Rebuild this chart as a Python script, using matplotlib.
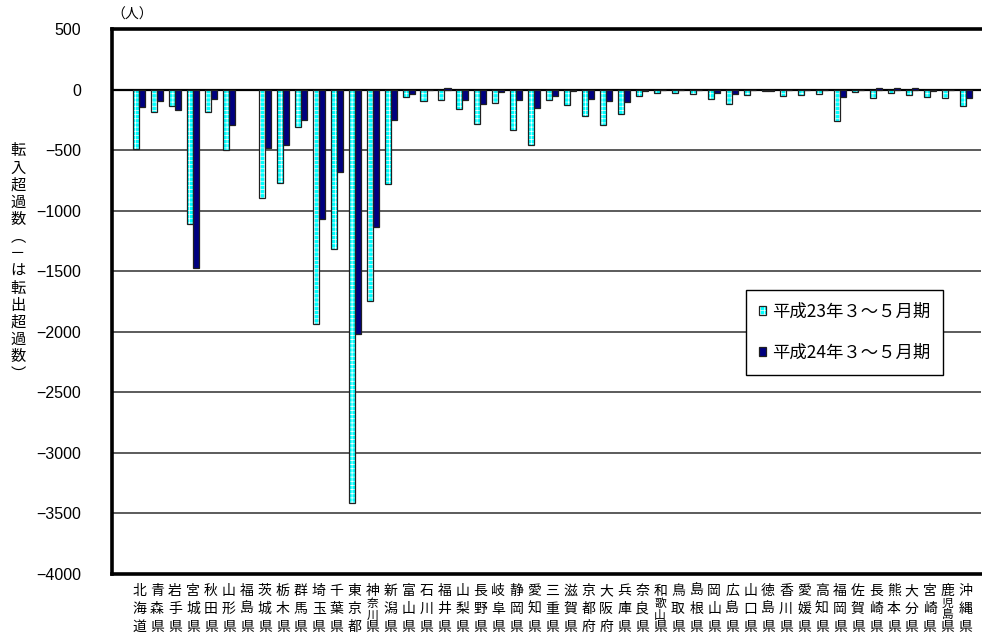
import numpy as np
import matplotlib
matplotlib.use("Agg")
import matplotlib.pyplot as plt
from matplotlib.patches import Patch
from matplotlib.transforms import blended_transform_factory
from matplotlib.legend_handler import HandlerTuple

plt.rcParams['font.family'] = ['Noto Sans CJK JP', 'DejaVu Sans']
plt.rcParams['hatch.linewidth'] = 0.5

prefs = ["北海道", "青森県", "岩手県", "宮城県", "秋田県", "山形県", "福島県", "茨城県",
         "栃木県", "群馬県", "埼玉県", "千葉県", "東京都", "神奈川県", "新潟県", "富山県",
         "石川県", "福井県", "山梨県", "長野県", "岐阜県", "静岡県", "愛知県", "三重県",
         "滋賀県", "京都府", "大阪府", "兵庫県", "奈良県", "和歌山県", "鳥取県", "島根県",
         "岡山県", "広島県", "山口県", "徳島県", "香川県", "愛媛県", "高知県", "福岡県",
         "佐賀県", "長崎県", "熊本県", "大分県", "宮崎県", "鹿児島県", "沖縄県"]

h23 = [-490, -185, -133, -1111, -185, -497, np.nan, -898, -774, -312, -1934, -1318,
       -3413, -1749, -782, -61, -91, -83, -158, -282, -111, -337, -456, -83, -124,
       -221, -290, -199, -55, -28, -28, -33, -75, -119, -47, -14, -55, -41, -35,
       -263, -22, -69, -28, -47, -61, -69, -138]

h24 = [-146, -97, -166, -1473, -75, -293, np.nan, -484, -456, -249, -1072, -682,
       -2017, -1133, -249, -33, -3, 10, -83, -119, -19, -88, -152, -50, -14,
       -77, -97, -105, -14, -5, -3, -5, -28, -36, -3, -10, -5, -5, -3,
       -61, -3, 15, 15, 12, -10, -3, -69]

series_labels = ["平成23年３～５月期", "平成24年３～５月期"]
yticks = list(range(-4000, 501, 500))

W, H = 982, 641
fig = plt.figure(figsize=(W / 100, H / 100), dpi=100)
ax = fig.add_axes([112 / W, 1 - 574 / H, (981 - 112) / W, (574 - 29) / H])

x = np.arange(len(prefs))
bw = 0.335
cyan = '#00FFFF'
navy = '#000080'

# hatched cyan bars (checker look) + outline
ax.bar(x - bw / 2, h23, bw, color=cyan, edgecolor='white', hatch='++++', linewidth=0, zorder=3)
ax.bar(x - bw / 2, h23, bw, facecolor='none', edgecolor='#202020', linewidth=0.9, zorder=4)
ax.bar(x + bw / 2, h24, bw, color=navy, edgecolor='#202020', linewidth=0.9, zorder=3)

ax.set_xlim(-1.502, 46.855)
ax.set_ylim(-4000, 500)
ax.set_yticks(yticks)
ax.set_yticklabels([str(v).replace('-', '\u2212') for v in yticks],
                   fontsize=11.5, family='Liberation Sans')
ax.tick_params(axis='y', length=0, pad=22)
ax.set_xticks([])

for v in yticks:
    if v in (500, -4000):
        continue
    ax.axhline(v, color='black' if v == 0 else '#404040', lw=1.6 if v == 0 else 1.2, zorder=1)

for s in ['top', 'left', 'bottom']:
    ax.spines[s].set_linewidth(2.6)
    ax.spines[s].set_color('black')
ax.spines['right'].set_visible(False)

# x labels: stacked vertical characters
tr = blended_transform_factory(ax.transData, fig.transFigure)
rows = [591, 609, 627]
for i, name in enumerate(prefs):
    chars = list(name)
    if len(chars) == 3:
        ys = rows
        sizes = [10, 10, 10]
    else:
        ys = [591, 603, 615, 627]
        sizes = [10, 8.5, 8.5, 10]
    for c, py, fs in zip(chars, ys, sizes):
        ax.text(i, 1 - py / H, c, transform=tr, ha='center', va='center', fontsize=fs,
                clip_on=False)

# y label: vertical stacked text
ylabel = "転入超過数︵－は転出超過数︶"
for k, c in enumerate(ylabel):
    py = 151 + k * 17.15
    fig.text(18 / W, 1 - py / H, c, ha='center', va='center', fontsize=11)

fig.text(132 / W, 1 - 15 / H, "（人）", ha='center', va='center', fontsize=10)

h1 = (Patch(facecolor=cyan, edgecolor='white', hatch='++++', linewidth=0),
      Patch(facecolor='none', edgecolor='#202020', linewidth=0.9))
h2 = Patch(facecolor=navy, edgecolor='#202020', linewidth=0.9)
leg = ax.legend([h1, h2], series_labels, loc='upper left',
                bbox_to_anchor=(746 / W, 1 - 290 / H), bbox_transform=fig.transFigure,
                borderaxespad=0, fontsize=12.5, frameon=True, fancybox=False,
                edgecolor='black', framealpha=1, borderpad=0.75, labelspacing=1.3,
                handlelength=0.4, handleheight=0.4, handletextpad=0.35,
                handler_map={tuple: HandlerTuple(ndivide=1)})
leg.get_frame().set_linewidth(1.0)
leg.set_zorder(10)

fig.savefig("out.png", dpi=100)
